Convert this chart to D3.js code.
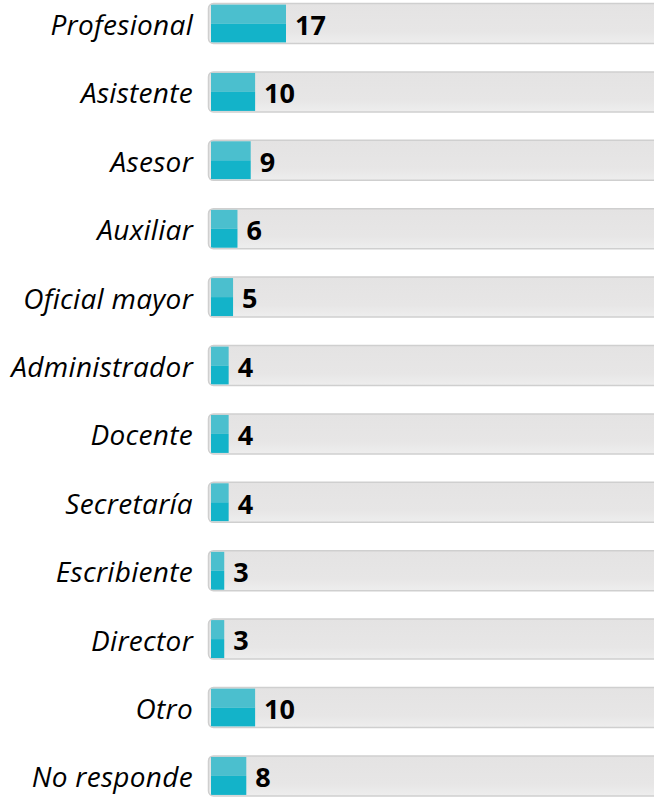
<!DOCTYPE html>
<html><head><meta charset="utf-8">
<script src="https://cdn.jsdelivr.net/npm/d3@7"></script>
<style>html,body{margin:0;padding:0;background:#fff;}svg{display:block;}</style>
</head><body>
<svg id="c" width="654" height="797"></svg>
<script>
const categories = ["Profesional","Asistente","Asesor","Auxiliar","Oficial mayor","Administrador","Docente","Secretaría","Escribiente","Director","Otro","No responde"];
const values = [17,10,9,6,5,4,4,4,3,3,10,8];

const svg = d3.select("#c");
const defs = svg.append("defs");
const gBg = defs.append("linearGradient").attr("id","bg").attr("x1",0).attr("y1",0).attr("x2",0).attr("y2",1);
gBg.append("stop").attr("offset","0").attr("stop-color","#e4e3e3");
gBg.append("stop").attr("offset","0.7").attr("stop-color","#e7e6e6");
gBg.append("stop").attr("offset","1").attr("stop-color","#eeeeee");
const clip = defs.append("clipPath").attr("id","lc");

const y = d3.scaleBand().domain(categories).range([-10.7, 810.1]).paddingInner(0.4).paddingOuter(0.2);
const x = d3.scaleLinear().domain([0,17]).range([211,286]);

const row = svg.selectAll("g.row").data(categories.map((c,i)=>({c,v:values[i]}))).join("g").attr("class","row")
  .attr("transform", d=>`translate(0,${y(d.c)})`);
const bh = y.bandwidth();
clip.append("rect").attr("x",209.5).attr("y",1.2).attr("width",460).attr("height",bh-2.4).attr("rx",4);

row.append("rect").attr("x",208.5).attr("y",0.5).attr("width",470).attr("height",bh-1)
  .attr("rx",5).attr("fill","url(#bg)").attr("stroke","#cfcfcf").attr("stroke-width",1.5);

const bars = row.append("g").attr("clip-path","url(#lc)");
bars.append("rect").attr("x",x(0)).attr("y",1.5).attr("width",d=>x(d.v)-x(0)).attr("height",(bh-3)/2)
  .attr("fill","#4bbfce");
bars.append("rect").attr("x",x(0)).attr("y",1.5+(bh-3)/2).attr("width",d=>x(d.v)-x(0)).attr("height",(bh-3)/2)
  .attr("fill","#13b3c9");

row.append("text").attr("x",193).attr("y",bh/2+1.5).attr("dy","0.36em").attr("text-anchor","end")
  .attr("font-family","Open Sans").attr("font-style","italic").attr("font-size",28)
  .attr("letter-spacing",0.3).attr("fill","#000")
  .text(d=>d.c);
row.append("text").attr("x",d=>x(d.v)+9).attr("y",bh/2+1.5).attr("dy","0.36em")
  .attr("font-family","Open Sans").attr("font-weight","bold").attr("font-size",27).attr("fill","#000")
  .text(d=>d.v);
</script>
</body></html>
